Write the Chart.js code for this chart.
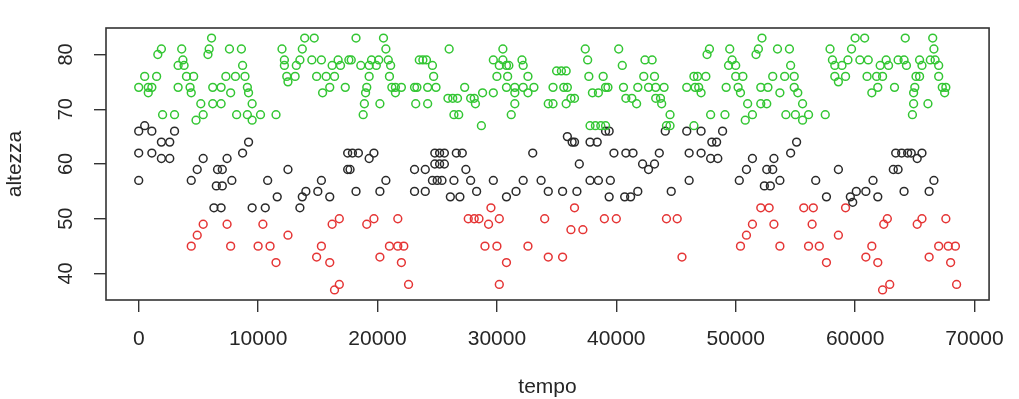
<!DOCTYPE html>
<html>
<head>
<meta charset="utf-8">
<script src="https://cdn.jsdelivr.net/npm/chart.js@4/dist/chart.umd.min.js"></script>
<style>
  html, body { margin: 0; padding: 0; background: #fff; }
  #wrap { width: 1019px; height: 399px; }
</style>
</head>
<body>
<div id="wrap"><canvas id="grafico" width="1019" height="399"></canvas></div>
<script>
// gruppo alto (verde)
const tempoVerde = [
  0, 500, 800, 800, 1100, 1500, 1600, 1900, 2000, 3000, 3300, 3300, 3600, 3700, 3800, 4000, 4300, 4400, 4600, 4800,
  5200, 5400, 5800, 5900, 6100, 6200, 6200, 6900, 6900, 7300, 7600, 7700, 8100, 8200, 8600, 8700, 8900, 9100, 9100, 9200,
  9500, 9500,
  10200, 11500, 12000, 12200, 12200, 12400, 12500, 13100, 13200, 13500, 13700, 13900, 14500, 14700, 14900, 15300, 15400, 15700,
  16000, 16200, 16400, 16700, 16900, 17300, 17600, 17800, 18200, 18600, 18800, 18900, 19000, 19100, 19300, 19300, 19500, 19900,
  20100, 20200, 20500, 20700, 20900, 21000, 21100, 21200, 21500, 21500,
  22000, 23100, 23300, 23200, 23500, 23800, 24100, 24200, 24200, 24600, 24700, 24900, 25900, 26000, 26300, 26400, 26700, 26800,
  27300, 27800, 28100, 28200, 28700, 28800, 29700, 29700, 30000, 30200, 30500, 30500, 30800, 30800, 30900, 31000, 31200, 31500,
  31500, 31500, 32100, 32200, 32200, 32600, 32600, 33100, 34300,
  34700, 34700, 35000, 35400, 35800, 35600, 35900, 35800, 36200, 36500, 37400, 37600, 37700, 37800, 38000, 38250, 38500, 38700,
  38900, 39100, 39100, 39300, 40200, 40500, 40600, 40800, 41300, 41700, 41800, 42300, 42400, 42700, 43000, 43200, 43300, 43300,
  43700, 43800, 44000, 44200, 44500, 44500, 45900, 46500, 46500, 46600,
  46800, 46900, 47100, 47500, 47600, 47800, 47900, 49100, 49200, 49400, 49500, 49700, 50000, 50000, 50200, 50400, 50600, 50800,
  51000, 51400, 51700, 51900, 52100, 52100, 52200, 52600, 52700, 53100, 53500, 53700, 54100, 54200, 54500, 54600, 54900, 54900,
  55000, 55200, 55600, 55600, 56100, 57500, 57900, 58100, 58300, 58300, 58600, 58900,
  59200, 59400, 59700, 60000, 60400, 60800, 61000, 61100, 61400, 61800, 61900, 62100, 62300, 62600, 62800, 63300, 63600, 64100,
  64200, 64300, 64800, 64900, 64900, 65000, 65100, 65400, 65400, 65600, 66100, 66300, 66500, 66600, 66700, 67000, 67000, 67300,
  67500, 67600
];
const altezzaVerde = [
  74, 76, 74, 73, 74, 76, 80, 81, 69, 69, 78, 74, 81, 79, 78, 76, 74, 73, 76, 68,
  71, 69, 80, 81, 83, 74, 71, 74, 71, 76, 81, 73, 76, 69, 81, 78, 76, 74, 69, 73,
  71, 68,
  69, 69, 81, 79, 78, 76, 75, 76, 78, 79, 81, 83, 79, 83, 76, 79, 73, 76,
  74, 78, 76, 79, 78, 74, 79, 79, 83, 78, 69, 71, 73, 74, 78, 76, 79, 78,
  79, 71, 83, 81, 79, 76, 78, 74, 74, 73,
  74, 74, 74, 71, 79, 79, 79, 74, 71, 78, 76, 74, 72, 81, 72, 69, 72, 69,
  74, 72, 72, 71, 67, 73, 79, 73, 76, 78, 81, 79, 78, 74, 76, 78, 69, 74,
  73, 71, 79, 78, 74, 76, 73, 74, 71,
  74, 71, 77, 77, 77, 74, 74, 71, 72, 72, 81, 79, 76, 67, 73, 67, 73, 67,
  76, 74, 67, 74, 81, 78, 74, 72, 72, 71, 74, 76, 79, 74, 79, 76, 74, 72,
  72, 71, 74, 67, 69, 67, 74, 76, 67, 74,
  76, 74, 73, 76, 80, 81, 69, 69, 74, 78, 81, 79, 78, 76, 74, 73, 76, 68,
  71, 69, 80, 81, 74, 71, 83, 71, 74, 76, 81, 73, 76, 69, 81, 78, 76, 74,
  69, 73, 71, 68, 69, 69, 81, 79, 78, 76, 75, 78,
  76, 79, 81, 83, 79, 83, 76, 79, 73, 76, 74, 78, 76, 79, 78, 74, 79, 79,
  83, 78, 69, 73, 71, 74, 76, 79, 76, 78, 71, 79, 83, 81, 79, 78, 76, 74,
  73, 74
];

// gruppo medio (nero)
const tempoNero = [
  0, 0, 0, 500, 1100, 1100, 1900, 1900, 2600, 2600, 3000, 4400, 4900, 5400, 6300, 6500, 6600, 6900, 7000, 7000,
  7400, 7800, 8700, 9200, 9500,
  10600, 10800, 11600, 12500, 13500, 13700, 14000, 15000, 15300, 16000, 17500, 17500, 17700, 17900, 18200, 18400, 19300, 19700, 20200,
  20700,
  23100, 23100, 24000, 24000, 24600, 24800, 24800, 25000, 25200, 25200, 25400, 25600, 25600, 26100, 26400, 26600, 26900, 27100,
  27400, 27800, 28300, 29700, 30800, 31600, 32200, 33000, 33700, 34300,
  35500, 35900, 36300, 36500, 36700, 36900, 37800, 37800, 38400, 38500, 39100, 39400, 39400, 39500, 39800, 40700, 40800, 41200,
  41400, 41800, 42200, 42700, 43200, 43600, 44100, 44600, 45900, 46100, 46100,
  47100, 47100, 47900, 48000, 48400, 48500, 48900, 50300, 50900, 51400, 52400, 52600, 52900, 53100, 53200, 53700, 54600, 55100,
  56700, 57600, 58600,
  59600, 59800, 60100, 60900, 61500, 61900, 63200, 63400, 63600, 63900, 64100, 64400, 64700, 65200, 65600, 66200, 66600
];
const altezzaNero = [
  66, 62, 57, 67, 66, 62, 64, 61, 64, 61, 66, 57, 59, 61, 52, 56, 59, 52, 59, 56,
  61, 57, 62, 64, 52,
  52, 57, 54, 59, 52, 54, 55, 55, 57, 54, 62, 59, 59, 62, 55, 62, 61, 62, 55,
  57,
  59, 55, 59, 55, 57, 62, 60, 57, 62, 60, 57, 62, 60, 54, 57, 62, 54, 62,
  59, 57, 55, 57, 54, 55, 57, 62, 57, 55,
  55, 65, 64, 64, 55, 60, 64, 57, 64, 57, 66, 66, 54, 57, 62, 54, 62, 54,
  62, 55, 60, 59, 60, 62, 66, 55, 66, 62, 57,
  66, 62, 61, 64, 64, 61, 66, 57, 59, 61, 56, 59, 56, 59, 61, 57, 62, 64,
  57, 54, 59,
  54, 53, 55, 55, 57, 54, 59, 62, 59, 62, 55, 62, 62, 61, 62, 55, 57
];

// gruppo basso (rosso)
const tempoRosso = [
  4400, 4900, 5400, 7400, 7700,
  10000, 10400, 11000, 11500, 12500, 14900, 15300, 16000, 16200, 16400, 16800, 16800, 19100, 19700, 20200,
  21000, 21700, 21700, 22000,
  22200, 22600, 27600, 28100, 28500, 29000, 29300, 29500, 30000, 30200, 30200, 30800, 32600, 34000, 34300,
  35500, 36200, 36500, 37200, 39000, 40000, 44200, 45100, 45500,
  50400, 50900, 51400, 52100, 52800, 53200, 53700, 55700, 56100, 56400, 56500, 57000, 57600, 58600, 59200,
  60900, 61400, 61900, 62300, 62400, 62700, 62900, 65200, 65600, 66200, 67000, 67600, 67800, 68000, 68400, 68500
];
const altezzaRosso = [
  45, 47, 49, 49, 45,
  45, 49, 45, 42, 47, 43, 45, 42, 49, 37, 50, 38, 49, 50, 43,
  45, 50, 45, 42,
  45, 38, 50, 50, 50, 45, 49, 52, 45, 50, 38, 42, 45, 50, 43,
  43, 48, 52, 48, 50, 50, 50, 50, 43,
  45, 47, 49, 52, 52, 49, 45, 52, 45, 49, 52, 45, 42, 47, 52,
  43, 45, 42, 37, 49, 50, 38, 49, 50, 43, 45, 50, 45, 42, 45, 38
];

const tickTempo = [0, 10000, 20000, 30000, 40000, 50000, 60000, 70000];
const tickAltezza = [40, 50, 60, 70, 80];

function punti(tempi, altezze) {
  return tempi.map((t, i) => ({ x: t, y: altezze[i] }));
}

const coloreTesto = '#262626';
const coloreAssi = '#333333';
const carattere = 'Liberation Sans, Arial, sans-serif';

// riquadro attorno all'area del grafico, come box() in R
const riquadro = {
  id: 'riquadro',
  afterDatasetsDraw(chart) {
    const { ctx, chartArea: a } = chart;
    ctx.save();
    ctx.strokeStyle = coloreAssi;
    ctx.lineWidth = 1.6;
    ctx.strokeRect(a.left, a.top, a.right - a.left, a.bottom - a.top);
    ctx.restore();
  }
};

function serie(etichetta, dati, colore) {
  return {
    label: etichetta,
    data: dati,
    pointStyle: 'circle',
    pointRadius: 3.9,
    pointHoverRadius: 3.9,
    pointBorderWidth: 1.5,
    pointBorderColor: colore,
    pointBackgroundColor: 'rgba(0,0,0,0)',
    showLine: false
  };
}

new Chart(document.getElementById('grafico'), {
  type: 'scatter',
  data: {
    datasets: [
      serie('verde', punti(tempoVerde, altezzaVerde), '#33c633'),
      serie('nero', punti(tempoNero, altezzaNero), '#2a2a2a'),
      serie('rosso', punti(tempoRosso, altezzaRosso), '#e53535')
    ]
  },
  options: {
    responsive: false,
    animation: false,
    devicePixelRatio: 1,
    layout: { padding: { top: 15, right: 18, left: 0, bottom: 0 } },
    plugins: {
      legend: { display: false },
      tooltip: { enabled: false }
    },
    scales: {
      x: {
        type: 'linear',
        min: -2740,
        max: 71220,
        afterBuildTicks: s => { s.ticks = tickTempo.map(v => ({ value: v })); },
        afterFit: s => { s.height = 99; },
        border: { display: false },
        grid: {
          drawOnChartArea: false,
          drawTicks: true,
          tickLength: 12,
          color: coloreAssi,
          lineWidth: 1.4
        },
        ticks: {
          padding: 15,
          maxRotation: 0,
          color: coloreTesto,
          font: { family: carattere, size: 21 },
          callback: v => String(v)
        },
        title: {
          display: true,
          text: 'tempo',
          color: coloreTesto,
          padding: { top: 0, bottom: -1 },
          font: { family: carattere, size: 21 }
        }
      },
      y: {
        type: 'linear',
        min: 35.16,
        max: 84.84,
        afterBuildTicks: s => { s.ticks = tickAltezza.map(v => ({ value: v })); },
        afterFit: s => { s.width = 106; },
        border: { display: false },
        grid: {
          drawOnChartArea: false,
          drawTicks: true,
          tickLength: 12,
          color: coloreAssi,
          lineWidth: 1.4
        },
        ticks: {
          padding: 16,
          minRotation: 90,
          maxRotation: 90,
          crossAlign: 'center',
          color: coloreTesto,
          font: { family: carattere, size: 20 },
          callback: v => String(v)
        },
        title: {
          display: true,
          text: 'altezza',
          color: coloreTesto,
          padding: { top: 3, bottom: 0 },
          font: { family: carattere, size: 21 }
        }
      }
    }
  },
  plugins: [riquadro]
});
</script>
</body>
</html>
